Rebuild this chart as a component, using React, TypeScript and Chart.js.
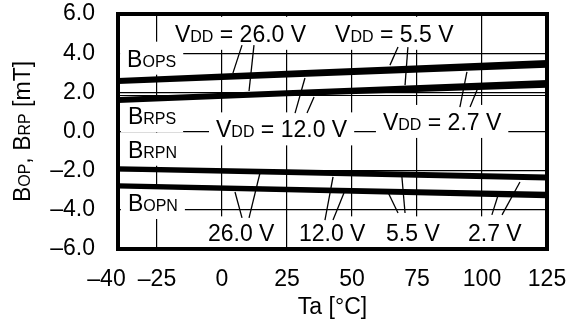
import { useEffect, useRef } from "react";
import { Chart, registerables } from "chart.js";

Chart.register(...registerables);

// ---- data ----
const temps = [-40, 25, 125];
const xTickValues = [-40, -25, 0, 25, 50, 75, 100, 125];
const vddNames = ["26.0 V", "12.0 V", "5.5 V", "2.7 V"];

// BOPS for VDD = 26.0, 12.0, 5.5, 2.7 V
const bops26 = [2.66, 3.02, 3.58];
const bops12 = [2.6, 2.96, 3.5];
const bops55 = [2.55, 2.9, 3.42];
const bops27 = [2.5, 2.84, 3.33];
// BRPS
const brps26 = [1.68, 2.03, 2.55];
const brps12 = [1.63, 1.98, 2.47];
const brps55 = [1.58, 1.93, 2.39];
const brps27 = [1.53, 1.88, 2.31];
// BRPN
const brpn26 = [-1.85, -2.01, -2.27];
const brpn12 = [-1.89, -2.05, -2.32];
const brpn55 = [-1.93, -2.1, -2.38];
const brpn27 = [-1.97, -2.14, -2.43];
// BOPN
const bopn26 = [-2.72, -2.9, -3.15];
const bopn12 = [-2.76, -2.94, -3.21];
const bopn55 = [-2.8, -2.99, -3.27];
const bopn27 = [-2.84, -3.03, -3.33];

// extra thin horizontal rule seen just below the 2.0 grid line
const extraRules = [1.84];

const seriesGroups = [
  { name: "BOPS", values: [bops26, bops12, bops55, bops27] },
  { name: "BRPS", values: [brps26, brps12, brps55, brps27] },
  { name: "BRPN", values: [brpn26, brpn12, brpn55, brpn27] },
  { name: "BOPN", values: [bopn26, bopn12, bopn55, bopn27] },
];

// ---- annotations (data coordinates) ----
const FONT = '"Liberation Sans", Arial, sans-serif';
const M = 23;
const S = 16;
type Part = [string, number];

const textLabels: { x: number; y: number; parts: Part[] }[] = [
  { x: -36.5, y: 3.31, parts: [["B", M], ["OPS", S]] },
  { x: -36.2, y: 0.37, parts: [["B", M], ["RPS", S]] },
  { x: -36.2, y: -1.34, parts: [["B", M], ["RPN", S]] },
  { x: -36.2, y: -4.06, parts: [["B", M], ["OPN", S]] },
  { x: -18.1, y: 4.58, parts: [["V", M], ["DD", S], [" = 26.0 V", M]] },
  { x: 43.5, y: 4.58, parts: [["V", M], ["DD", S], [" = 5.5 V", M]] },
  { x: -2.3, y: -0.3, parts: [["V", M], ["DD", S], [" = 12.0 V", M]] },
  { x: 61.9, y: 0.08, parts: [["V", M], ["DD", S], [" = 2.7 V", M]] },
  { x: -5.4, y: -5.61, parts: [["26.0 V", M]] },
  { x: 29.6, y: -5.61, parts: [["12.0 V", M]] },
  { x: 63.1, y: -5.61, parts: [["5.5 V", M]] },
  { x: 94.6, y: -5.61, parts: [["2.7 V", M]] },
];

const leaders: [number, number, number, number][] = [
  [7.7, 4.41, 4.2, 2.98],
  [12.3, 4.41, 10.4, 2.07],
  [28.1, 0.94, 31.9, 2.73],
  [32.7, 0.94, 35.4, 1.76],
  [67.7, 4.31, 64.6, 3.39],
  [71.5, 4.31, 70.4, 2.37],
  [91.5, 1.25, 94.2, 3.04],
  [95.4, 1.25, 98.1, 2.12],
  [7.7, -4.41, 5.0, -3.09],
  [10.4, -4.41, 14.6, -2.12],
  [39.6, -4.52, 42.7, -2.32],
  [42.7, -4.52, 46.9, -3.14],
  [67.7, -4.16, 63.8, -3.09],
  [70.4, -4.16, 69.2, -2.32],
  [103.8, -4.26, 106.2, -3.24],
  [107.7, -4.26, 114.6, -2.58],
];

function richWidth(ctx: CanvasRenderingContext2D, parts: Part[]) {
  let w = 0;
  for (const [t, s] of parts) {
    ctx.font = `${s}px ${FONT}`;
    w += ctx.measureText(t).width;
  }
  return w;
}

function drawRich(ctx: CanvasRenderingContext2D, parts: Part[], x: number, y: number) {
  let cx = x;
  ctx.textBaseline = "alphabetic";
  ctx.textAlign = "left";
  for (const [t, s] of parts) {
    ctx.font = `${s}px ${FONT}`;
    ctx.fillText(t, cx, y);
    cx += ctx.measureText(t).width;
  }
}

const annotationPlugin = {
  id: "annot",
  beforeDatasetsDraw(chart: any) {
    const { ctx, chartArea, scales } = chart;
    ctx.save();
    ctx.beginPath();
    ctx.rect(chartArea.left, chartArea.top, chartArea.right - chartArea.left, chartArea.bottom - chartArea.top);
    ctx.clip();
    // extra thin rules
    ctx.strokeStyle = "#000";
    ctx.lineWidth = 1.2;
    for (const r of extraRules) {
      const py = Math.round(scales.y.getPixelForValue(r)) + 0.5;
      ctx.beginPath();
      ctx.moveTo(chartArea.left, py);
      ctx.lineTo(chartArea.right, py);
      ctx.stroke();
    }
    ctx.fillStyle = "#ffffff";
    for (const l of textLabels) {
      const px = scales.x.getPixelForValue(l.x);
      const py = scales.y.getPixelForValue(l.y);
      const w = richWidth(ctx, l.parts);
      ctx.fillRect(px - 7, py - 25, w + 14, 33);
    }
    ctx.restore();
  },
  afterDatasetsDraw(chart: any) {
    const { ctx, chartArea, scales } = chart;
    ctx.save();
    ctx.strokeStyle = "#000";
    ctx.lineWidth = 1.3;
    for (const [x1, y1, x2, y2] of leaders) {
      ctx.beginPath();
      ctx.moveTo(scales.x.getPixelForValue(x1), scales.y.getPixelForValue(y1));
      ctx.lineTo(scales.x.getPixelForValue(x2), scales.y.getPixelForValue(y2));
      ctx.stroke();
    }
    ctx.fillStyle = "#000";
    for (const l of textLabels) {
      drawRich(ctx, l.parts, scales.x.getPixelForValue(l.x), scales.y.getPixelForValue(l.y));
    }
    // frame
    ctx.lineWidth = 4;
    ctx.strokeRect(chartArea.left, chartArea.top, chartArea.right - chartArea.left, chartArea.bottom - chartArea.top);
    ctx.restore();
  },
  afterDraw(chart: any) {
    const { ctx, chartArea } = chart;
    ctx.save();
    ctx.fillStyle = "#000";
    // x title
    const xt: Part[] = [["Ta [\u00b0C]", M]];
    const xw = richWidth(ctx, xt);
    drawRich(ctx, xt, (chartArea.left + chartArea.right) / 2 - xw / 2, 314);
    // y title
    const yt: Part[] = [["B", M], ["OP", S], [", B", M], ["RP", S], [" [mT]", M]];
    const yw = richWidth(ctx, yt);
    ctx.translate(30, (chartArea.top + chartArea.bottom) / 2);
    ctx.rotate(-Math.PI / 2);
    drawRich(ctx, yt, -yw / 2, 0);
    ctx.restore();
  },
};

function zeroPadding(s: any) {
  s.paddingTop = 0;
  s.paddingBottom = 0;
  s.paddingLeft = 0;
  s.paddingRight = 0;
}

export default function App() {
  const ref = useRef<HTMLCanvasElement>(null);
  useEffect(() => {
    if (!ref.current) return;
    const datasets: any[] = [];
    seriesGroups.forEach((g) => {
      g.values.forEach((vals, i) => {
        datasets.push({
          label: `${g.name} ${vddNames[i]}`,
          data: temps.map((t, k) => ({ x: t, y: vals[k] })),
          borderColor: "#000",
          borderWidth: 3,
          pointRadius: 0,
          tension: 0,
          fill: false,
        });
      });
    });
    const chart = new Chart(ref.current, {
      type: "line",
      data: { datasets },
      options: {
        responsive: false,
        animation: false,
        devicePixelRatio: 1,
        layout: { padding: { top: 14, right: 22, left: 0, bottom: 0 } },
        plugins: { legend: { display: false }, tooltip: { enabled: false }, title: { display: false } },
        scales: {
          x: {
            type: "linear",
            min: -40,
            max: 125,
            afterBuildTicks: (s: any) => {
              s.ticks = xTickValues.map((v) => ({ value: v }));
            },
            afterFit: (s: any) => {
              s.height = 74;
              zeroPadding(s);
            },
            grid: { color: "#000", lineWidth: 1.2, drawTicks: false },
            border: { display: false },
            ticks: {
              color: "#000",
              font: { family: FONT, size: M },
              padding: 17,
              maxRotation: 0,
              autoSkip: false,
              callback: (v: any) => (v < 0 ? "\u2013" : "") + Math.abs(v) + (v === -40 ? "\u2003" : ""),
            },
          },
          y: {
            min: -6,
            max: 6,
            afterFit: (s: any) => {
              s.width = 118;
              zeroPadding(s);
            },
            grid: { color: "#000", lineWidth: 1.2, drawTicks: false },
            border: { display: false },
            ticks: {
              stepSize: 2,
              color: "#000",
              font: { family: FONT, size: M },
              padding: 23,
              callback: (v: any) => (v < 0 ? "\u2013" : "") + Math.abs(v).toFixed(1),
            },
          },
        },
      },
      plugins: [annotationPlugin],
    });
    return () => chart.destroy();
  }, []);
  return (
    <div style={{ position: "absolute", left: 0, top: 0, width: 569, height: 323, background: "#fff" }}>
      <canvas ref={ref} width={569} height={323} />
    </div>
  );
}
